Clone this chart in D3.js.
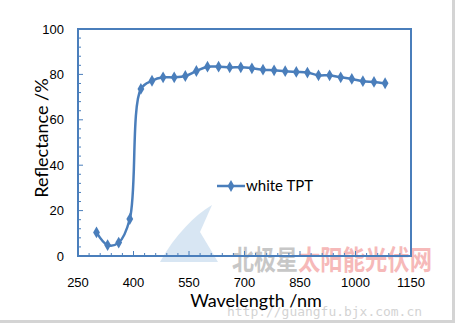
<!DOCTYPE html>
<html>
<head>
<meta charset="utf-8">
<script src="https://cdn.jsdelivr.net/npm/d3@7"></script>
<style>
  body { margin: 0; background: #fff; }
  svg { display: block; }
</style>
</head>
<body>
<div id="chart"></div>
<script>
// wavelength (nm) and reflectance (%)
var wavelengths = [300, 330, 360, 390, 420, 450, 480, 510, 540, 570, 600, 630, 660, 690,
                   720, 750, 780, 810, 840, 870, 900, 930, 960, 990, 1020, 1050, 1080]
var reflectance = [10.4, 4.8, 5.9, 16.3, 73.6, 77.2, 78.7, 78.7, 79.3, 81.5, 83.4, 83.4, 83.1, 83.1,
                   82.7, 82.1, 81.8, 81.4, 81.1, 80.8, 79.6, 79.6, 78.7, 78.0, 77.0, 76.7, 76.1]
var xTicks = [250, 400, 550, 700, 850, 1000, 1150]
var yTicks = [0, 20, 40, 60, 80, 100]
var seriesName = "white TPT"

var width = 455, height = 323
var blue = "#4a7ebb"

var svg = d3.select("#chart").append("svg")
    .attr("width", width)
    .attr("height", height)

svg.append("rect").attr("width", width).attr("height", height).attr("fill", "#fff")
// grey frame of the screenshot
svg.append("rect").attr("x", 452).attr("y", 0).attr("width", 3).attr("height", height).attr("fill", "#d4d4d4")
svg.append("rect").attr("x", 0).attr("y", 320).attr("width", width).attr("height", 3).attr("fill", "#d4d4d4")

var x = d3.scaleLinear().domain([250, 1150]).range([78, 411])
var y = d3.scaleLinear().domain([0, 100]).range([256, 29])

// watermark
var wm = svg.append("g").attr("opacity", 0.55)
wm.append("path")
  .attr("d", "M160,262 C175,235 195,215 212,205 L200,232 L218,262 Z")
  .attr("fill", "#b9d3ea")
wm.append("text").attr("x", 232).attr("y", 270)
  .attr("font-family", "Noto Sans CJK SC").attr("font-weight", "bold")
  .attr("font-size", 27).attr("textLength", 66).attr("lengthAdjust", "spacingAndGlyphs")
  .attr("fill", "#9a9a9a").text("北极星")
wm.append("text").attr("x", 298).attr("y", 270)
  .attr("font-family", "Noto Sans CJK SC").attr("font-weight", "bold")
  .attr("font-size", 27).attr("textLength", 134).attr("lengthAdjust", "spacingAndGlyphs")
  .attr("fill", "#f08080").text("太阳能光伏网")
wm.append("text").attr("x", 227).attr("y", 316)
  .attr("font-family", "DejaVu Sans Mono")
  .attr("font-size", 12).attr("textLength", 195).attr("lengthAdjust", "spacingAndGlyphs")
  .attr("fill", "#b0b0b0").text("http://guangfu.bjx.com.cn")

// minor ticks, pointing into the plot
var xMinor = d3.range(250, 1151, 30)
svg.append("g").selectAll("line").data(xMinor).join("line")
    .attr("x1", d => x(d)).attr("x2", d => x(d))
    .attr("y1", y(0)).attr("y2", d => (d - 250) % 150 === 0 ? y(0) - 5 : y(0) - 3)
    .attr("stroke", blue).attr("stroke-width", 1)
var yMinor = d3.range(0, 101, 4)
svg.append("g").selectAll("line").data(yMinor).join("line")
    .attr("y1", d => y(d)).attr("y2", d => y(d))
    .attr("x1", x(250)).attr("x2", d => d % 20 === 0 ? x(250) + 5 : x(250) + 3)
    .attr("stroke", blue).attr("stroke-width", 1)

// plot frame
svg.append("rect")
    .attr("x", x(250)).attr("y", y(100))
    .attr("width", x(1150) - x(250)).attr("height", y(0) - y(100))
    .attr("fill", "none").attr("stroke", blue).attr("stroke-width", 2)

// tick labels
svg.append("g").selectAll("text").data(xTicks).join("text")
    .attr("x", d => x(d)).attr("y", 287)
    .attr("text-anchor", "middle")
    .attr("font-family", "Liberation Sans, Arial").attr("font-size", 13)
    .attr("fill", "#000").text(d => d)
svg.append("g").selectAll("text").data(yTicks).join("text")
    .attr("x", 64).attr("y", d => y(d) + 4.5)
    .attr("text-anchor", "end")
    .attr("font-family", "Liberation Sans, Arial").attr("font-size", 13)
    .attr("fill", "#000").text(d => d)

// axis titles
svg.append("text")
    .attr("x", 256).attr("y", 307)
    .attr("text-anchor", "middle")
    .attr("font-family", "Lato").attr("font-size", 18)
    .attr("fill", "#000").text("Wavelength /nm")
svg.append("text")
    .attr("transform", "translate(48,138) rotate(-90)")
    .attr("text-anchor", "middle")
    .attr("font-family", "Lato").attr("font-size", 18)
    .attr("fill", "#000").text("Reflectance /%")

// data
var data = wavelengths.map((w, i) => ({w: w, r: reflectance[i]}))
var line = d3.line().x(d => x(d.w)).y(d => y(d.r)).curve(d3.curveCatmullRom.alpha(0.5))
svg.append("path").datum(data)
    .attr("d", line)
    .attr("fill", "none").attr("stroke", blue).attr("stroke-width", 2.5)

var diamond = d3.symbol().type(d3.symbolDiamond).size(40)
svg.append("g").selectAll("path").data(data).join("path")
    .attr("transform", d => `translate(${x(d.w)},${y(d.r)})`)
    .attr("d", diamond)
    .attr("fill", blue)

// legend
var lg = svg.append("g")
lg.append("line").attr("x1", 217).attr("x2", 245).attr("y1", 186).attr("y2", 186)
    .attr("stroke", blue).attr("stroke-width", 2.5)
lg.append("path").attr("transform", "translate(231,186)").attr("d", diamond).attr("fill", blue)
lg.append("text").attr("x", 246).attr("y", 191)
    .attr("font-family", "Lato").attr("font-size", 15)
    .attr("fill", "#000").text(seriesName)
</script>
</body>
</html>
